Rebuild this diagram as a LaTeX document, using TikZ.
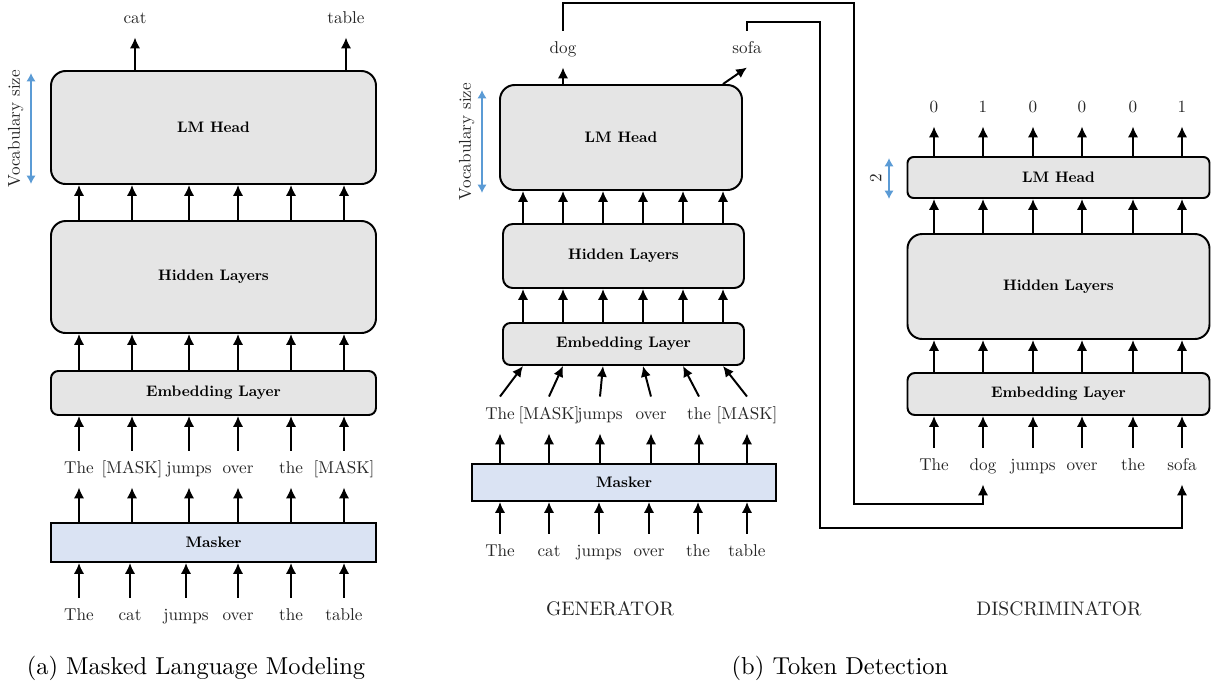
\documentclass[tikz,border=0pt]{standalone}
\usepackage{amsmath,amsfonts,amssymb}
\usepackage{fontspec}
\setmainfont{lmroman10-regular.otf}[BoldFont=lmroman10-bold.otf, ItalicFont=lmroman10-italic.otf]
\usepackage{tikz}
\usetikzlibrary{arrows.meta}
\newcommand{\pxu}{0.4085pt}
\definecolor{vocabblue}{HTML}{5B9BD5}
\definecolor{maskblue}{HTML}{DAE3F3}

\begin{document}
\begin{tikzpicture}[x=\pxu, y=-\pxu, thick, >={Latex[length=4.4pt,width=4.2pt]},
    layer/.style={draw, fill=gray!20, rounded corners=#1, inner sep=0pt, font=\fontsize{6.2}{7}\selectfont\bfseries},
    masker/.style={draw, fill=maskblue, inner sep=0pt, font=\fontsize{6.2}{7}\selectfont\bfseries},
    word/.style={font=\fontsize{7}{8}\selectfont, text=black!85, text height=5pt, text depth=1.5pt, inner xsep=1pt, inner ysep=3.9pt},
    sizearrow/.style={vocabblue, line width=1.2pt, {Latex[length=3.4pt,width=3.8pt]}-{Latex[length=3.4pt,width=3.8pt]}},
    sizelabel/.style={midway, rotate=90, anchor=south, inner sep=2.5pt, font=\fontsize{7}{8}\selectfont, text=black!85},
    part/.style={font=\fontsize{8}{9}\selectfont, text=black!85}]
    \useasboundingbox (0,0) rectangle (1211,684);

    % (a) masked language modeling
    \node[layer=6pt, minimum width=325*\pxu, minimum height=113*\pxu] (lmA) at (213.5,127.5) {LM Head};
    \node[layer=6pt, minimum width=325*\pxu, minimum height=112*\pxu] (hidA) at (213.5,277) {Hidden Layers};
    \node[layer=3pt, minimum width=325*\pxu, minimum height=44*\pxu] (embA) at (213.5,393) {Embedding Layer};
    \node[masker, minimum width=325*\pxu, minimum height=39*\pxu] (maskA) at (213.5,542.5) {Masker};
    \node[word] (catA) at (135,19) {cat};
    \node[word] (tableA) at (346,19) {table};
    \foreach \x/\w [count=\i] in {79/The,132/[MASK],189/jumps,238/over,291/the,344/[MASK]}
      \node[word] (mA\i) at (\x,469) {\w};
    \foreach \x/\w [count=\i] in {79/The,130/cat,186/jumps,238/over,291/the,344/table}
      \node[word] (bA\i) at (\x,616) {\w};
    \foreach \i in {1,...,6} {
      \draw[->] (bA\i.north) -- (bA\i.north |- maskA.south);
      \draw[->] (maskA.north -| mA\i) -- (mA\i.south);
      \draw[->] (mA\i.north) -- (mA\i.north |- embA.south);
      \draw[->] (embA.north -| mA\i) -- (hidA.south -| mA\i);
      \draw[->] (hidA.north -| mA\i) -- (lmA.south -| mA\i);
    }
    \draw[->] (lmA.north -| catA) -- (catA.south);
    \draw[->] (lmA.north -| tableA) -- (tableA.south);
    \coordinate (vA1) at (31,73);
    \coordinate (vA2) at (31,184);
    \draw[sizearrow] (vA1) -- node[sizelabel] {Vocabulary size} (vA2);

    % (b) generator
    \node[layer=6pt, minimum width=242*\pxu, minimum height=105*\pxu] (lmG) at (621,137.5) {LM Head};
    \node[layer=4pt, minimum width=241*\pxu, minimum height=64*\pxu] (hidG) at (623.5,256) {Hidden Layers};
    \node[layer=3pt, minimum width=241*\pxu, minimum height=42*\pxu] (embG) at (623.5,344) {Embedding Layer};
    \node[masker, minimum width=304*\pxu, minimum height=37*\pxu] (maskG) at (624,482.5) {Masker};
    \node[word] (dog) at (563,49) {dog};
    \node[word] (sofa) at (747,49) {sofa};
    \foreach \x [count=\i] in {523,563,603,643,683,723}
      \coordinate (gC\i) at (\x,0);
    \foreach \x/\w [count=\i] in {500/The,549/[MASK],600/jumps,651/over,699/the,747/[MASK]}
      \node[word] (mG\i) at (\x,415) {\w};
    \foreach \x/\w [count=\i] in {500/The,549/cat,599/jumps,649/over,698/the,747/table}
      \node[word] (bG\i) at (\x,552) {\w};
    \foreach \i in {1,...,6} {
      \draw[->] (bG\i.north) -- (bG\i.north |- maskG.south);
      \draw[->] (maskG.north -| mG\i) -- (mG\i.south);
      \draw[->] (mG\i.north) -- (embG.south -| gC\i);
      \draw[->] (embG.north -| gC\i) -- (hidG.south -| gC\i);
      \draw[->] (hidG.north -| gC\i) -- (lmG.south -| gC\i);
    }
    \draw[->] (lmG.north -| dog) -- (dog.south);
    \draw[->] (lmG.north -| gC6) -- (sofa.south);
    \coordinate (vG1) at (482,90);
    \coordinate (vG2) at (482,193);
    \draw[sizearrow] (vG1) -- node[sizelabel] {Vocabulary size} (vG2);

    % (b) discriminator
    \node[layer=2.5pt, minimum width=302*\pxu, minimum height=41*\pxu] (lmD) at (1058.5,177.5) {LM Head};
    \node[layer=6pt, minimum width=302*\pxu, minimum height=105*\pxu] (hidD) at (1058.5,286.5) {Hidden Layers};
    \node[layer=3pt, minimum width=302*\pxu, minimum height=42*\pxu] (embD) at (1058.5,394) {Embedding Layer};
    \foreach \x/\w [count=\i] in {934/0,983/1,1033/0,1082/0,1133/0,1182/1}
      \node[word] (oD\i) at (\x,108) {\w};
    \foreach \x/\w [count=\i] in {934/The,983/dog,1033/jumps,1082/over,1133/the,1182/sofa}
      \node[word] (dD\i) at (\x,466) {\w};
    \foreach \i in {1,...,6} {
      \draw[->] (dD\i.north) -- (dD\i.north |- embD.south);
      \draw[->] (embD.north -| dD\i) -- (hidD.south -| dD\i);
      \draw[->] (hidD.north -| dD\i) -- (lmD.south -| dD\i);
      \draw[->] (lmD.north -| oD\i) -- (oD\i.south);
    }
    \coordinate (vD1) at (889,158);
    \coordinate (vD2) at (889,199);
    \draw[sizearrow] (vD1) -- node[sizelabel] {2} (vD2);

    \draw[->] (dog.north) |- (854,3) -- (854,504) -| (dD2.south);
    \draw[->] (sofa.north) |- (820,22) -- (820,528) -| (dD6.south);

    \node[part] (gen) at (610,609) {GENERATOR};
    \node[part] (disc) at (1059,609) {DISCRIMINATOR};
    \node (capA) at (196,668) {(a) Masked Language Modeling};
    \node (capB) at (840,668) {(b) Token Detection};
  \end{tikzpicture}
\end{document}
